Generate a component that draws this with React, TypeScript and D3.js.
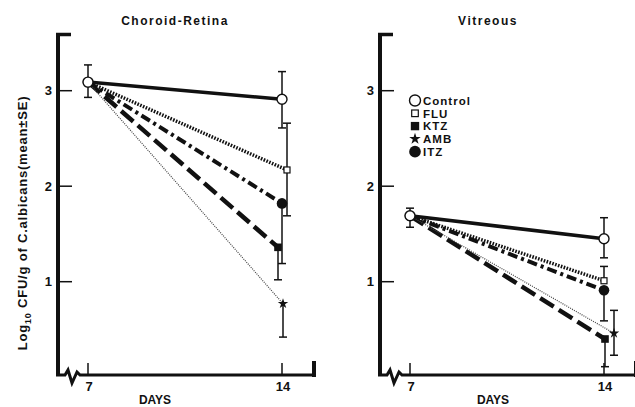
import React from "react";
import * as d3 from "d3";

// days on the x axis
const days = [7, 14];
const yTicks = [1, 2, 3];
const seriesNames = ["Control", "FLU", "KTZ", "AMB", "ITZ"];

// log10 CFU/g, [day 7, day 14], one row per series
const choroidValues = [
  [3.09, 2.91],
  [3.09, 2.17],
  [3.09, 1.36],
  [3.09, 0.77],
  [3.09, 1.82],
];
const choroidErrUp = [
  [0.18, 0.29],
  [0, 0.49],
  [0, 0],
  [0, 0],
  [0, 0],
];
const choroidErrDown = [
  [0.16, 0.3],
  [0, 0.48],
  [0, 0.34],
  [0, 0.35],
  [0, 0.63],
];

const vitreousValues = [
  [1.69, 1.45],
  [1.69, 1.01],
  [1.69, 0.4],
  [1.69, 0.46],
  [1.69, 0.91],
];
const vitreousErrUp = [
  [0.08, 0.22],
  [0, 0.15],
  [0, 0],
  [0, 0.24],
  [0, 0],
];
const vitreousErrDown = [
  [0.12, 0.2],
  [0, 0],
  [0, 0.29],
  [0, 0.23],
  [0, 0.32],
];

const FONT = "'Liberation Sans', Arial, Helvetica, sans-serif";
const INK = "#111";

// line look per series
const lineStyle = [
  { width: 3.5, dash: null, color: INK },
  { width: 3.5, dash: "1.6,1.4", color: INK },
  { width: 4.5, dash: "16,6", color: INK },
  { width: 1.2, dash: "1,1.2", color: "#444" },
  { width: 4, dash: "10,4,3,4", color: INK },
];

const yScale = d3.scaleLinear().domain([0, 3]).range([377.2, 90.7]);
const xScale = d3.scaleLinear().domain([7, 14]).range([30, 224]);

function Marker({ i, x, y, big }) {
  const s = big ? 1.1 : 1;
  if (i === 0)
    return <circle cx={x} cy={y} r={5 * s} fill="#fff" stroke={INK} strokeWidth={1.4} />;
  if (i === 1)
    return (
      <rect x={x - 3 * s} y={y - 3 * s} width={6 * s} height={6 * s} fill="#fff" stroke={INK} strokeWidth={1.2} />
    );
  if (i === 2)
    return <rect x={x - 3.8 * s} y={y - 3.8 * s} width={7.6 * s} height={7.6 * s} fill={INK} />;
  if (i === 3)
    return (
      <path
        transform={`translate(${x},${y})`}
        d={d3.symbol(d3.symbolStar, 34 * s * s)()}
        fill={INK}
      />
    );
  return <circle cx={x} cy={y} r={5.3 * s} fill={INK} />;
}

function Panel({ left, title, titleX, daysX, values, errUp, errDown, dodge, showYLabel, legend }) {
  const line = d3.line().x((d) => d[0]).y((d) => d[1]);
  const order = [4, 2, 1, 3, 0];
  return (
    <g transform={`translate(${left},0)`}>
      <text x={titleX} y={25} textAnchor="middle" fontFamily={FONT} fontWeight="bold" fontSize={12} letterSpacing={1.5} fill={INK}>
        {title}
      </text>
      {/* frame */}
      <path d="M0,33 L0,375" stroke={INK} strokeWidth={4} fill="none" />
      <path d="M-2,34.5 L13,34.5" stroke={INK} strokeWidth={3.5} fill="none" />
      <path d="M-2,375 L7,375 L10,370 L14,383 L19,372 L22,375 L256,375" stroke={INK} strokeWidth={3} fill="none" strokeLinejoin="miter" />
      <path d="M256,361 L256,377" stroke={INK} strokeWidth={4} fill="none" />
      {yTicks.map((t) => (
        <g key={t}>
          <line x1={2} x2={14} y1={yScale(t)} y2={yScale(t)} stroke={INK} strokeWidth={1.5} />
          <text x={-6} y={yScale(t)} dy="0.36em" textAnchor="end" fontFamily={FONT} fontWeight="bold" fontSize={13} fill={INK}>
            {t}
          </text>
        </g>
      ))}
      {days.map((d) => (
        <g key={d}>
          <line x1={xScale(d)} x2={xScale(d)} y1={363} y2={375} stroke={INK} strokeWidth={1.5} />
          <text x={xScale(d) + 1} y={391} textAnchor="middle" fontFamily={FONT} fontWeight="bold" fontSize={13} fill={INK}>
            {d}
          </text>
        </g>
      ))}
      <text x={daysX} y={404} textAnchor="middle" fontFamily={FONT} fontWeight="bold" fontSize={12} fill={INK}>
        DAYS
      </text>
      {showYLabel && (
        <text
          transform="translate(-31,223) rotate(-90)"
          textAnchor="middle"
          fontFamily={FONT}
          fontWeight="bold"
          fontSize={13}
          letterSpacing={0.8}
          fill={INK}
        >
          Log
          <tspan fontSize={9} dy={4}>10</tspan>
          <tspan dy={-4}> CFU/g of C.albicans(mean±SE)</tspan>
        </text>
      )}
      {/* lines */}
      {order.map((i) => {
        const pts = values[i].map((v, k) => [xScale(days[k]) + (k === 1 ? dodge[i] : 0), yScale(v)]);
        const st = lineStyle[i];
        return (
          <path
            key={"l" + i}
            d={line(pts)}
            fill="none"
            stroke={st.color}
            strokeWidth={st.width}
            strokeDasharray={st.dash || undefined}
          />
        );
      })}
      {/* error bars */}
      {order.map((i) =>
        values[i].map((v, k) => {
          const x = xScale(days[k]) + (k === 1 ? dodge[i] : 0);
          const up = errUp[i][k];
          const dn = errDown[i][k];
          return (
            <g key={"e" + i + k} stroke={INK} strokeWidth={1.5}>
              {up > 0 && (
                <>
                  <line x1={x} x2={x} y1={yScale(v)} y2={yScale(v + up)} />
                  <line x1={x - 4} x2={x + 4} y1={yScale(v + up)} y2={yScale(v + up)} />
                </>
              )}
              {dn > 0 && (
                <>
                  <line x1={x} x2={x} y1={yScale(v)} y2={yScale(v - dn)} />
                  <line x1={x - 4} x2={x + 4} y1={yScale(v - dn)} y2={yScale(v - dn)} />
                </>
              )}
            </g>
          );
        })
      )}
      {/* markers */}
      {order.map((i) =>
        values[i].map((v, k) => (
          <Marker key={"m" + i + k} i={i} x={xScale(days[k]) + (k === 1 ? dodge[i] : 0)} y={yScale(v)} big={false} />
        ))
      )}
      {legend &&
        seriesNames.map((name, i) => {
          const cy = 100.5 + i * 12.8;
          return (
            <g key={name}>
              <Marker i={i} x={35} y={cy} big={true} />
              <text x={43} y={cy + 4.3} fontFamily={FONT} fontWeight="bold" fontSize={11.5} letterSpacing={1} fill={INK}>
                {name}
              </text>
            </g>
          );
        })}
    </g>
  );
}

export default function App() {
  return (
    <svg width={635} height={407} style={{ position: "absolute", left: 0, top: 0, background: "#fff" }}>
      <rect width={635} height={407} fill="#fff" />
      <Panel
        left={58}
        title="Choroid-Retina"
        titleX={117}
        daysX={97}
        values={choroidValues}
        errUp={choroidErrUp}
        errDown={choroidErrDown}
        dodge={[0, 5, -4, 1, 0]}
        showYLabel={true}
        legend={false}
      />
      <Panel
        left={380}
        title="Vitreous"
        titleX={108}
        daysX={113}
        values={vitreousValues}
        errUp={vitreousErrUp}
        errDown={vitreousErrDown}
        dodge={[0, 0, 1, 10, 0]}
        showYLabel={false}
        legend={true}
      />
    </svg>
  );
}
